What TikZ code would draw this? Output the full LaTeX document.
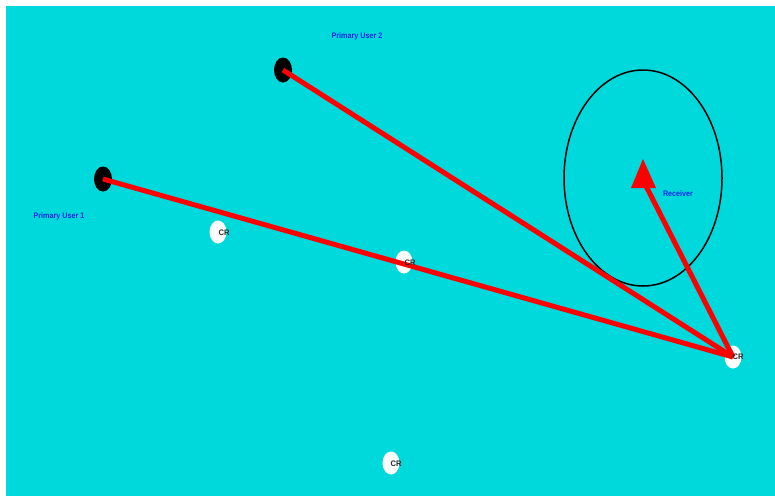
\documentclass[tikz,border=0pt]{standalone}
\usepackage{fontspec}
\setmainfont{Liberation Sans}
\usetikzlibrary{shapes.geometric}
\definecolor{bgcyan}{RGB}{0,217,220}
\definecolor{lblblue}{RGB}{10,40,230}
\definecolor{crtext}{RGB}{40,40,40}
\begin{document}
\begin{tikzpicture}[x=1pt,y=-1pt,
  pudot/.style={ellipse,fill=black,minimum width=18pt,minimum height=25pt,inner sep=0pt},
  crdot/.style={ellipse,fill=white,minimum width=17pt,minimum height=23pt,inner sep=0pt},
  crlbl/.style={font=\fontsize{8}{9}\selectfont\bfseries,text=crtext,inner sep=0pt,xscale=0.95},
  bluelbl/.style={font=\fontsize{8}{9}\selectfont\bfseries,text=lblblue,inner sep=0pt,xscale=0.9},
  redlink/.style={draw=red,line width=5pt},
  ring/.style={draw=black,line width=1.5pt}]
\useasboundingbox (0,0) rectangle (775,496);
\fill[bgcyan] (6,6) rectangle (775,496);
% coverage circle
\draw[ring] (643,178) ellipse [x radius=79, y radius=108];
% primary users
\node[pudot] (pu1) at (103,179) {};
\node[pudot] (pu2) at (283,70) {};
% cognitive radios
\node[crdot] (cr1) at (218,232) {};
\node[crdot] (cr2) at (404,262) {};
\node[crdot] (cr3) at (733,357) {};
\node[crdot] (cr4) at (391,463) {};
% receiver
\coordinate (rxbase) at (646,186);
\draw[redlink] (pu1.center) -- (cr3.center);
\draw[redlink] (pu2.center) -- (cr3.center);
\draw[redlink] (cr3.center) -- (rxbase);
\fill[red] (643,159) -- (656,188) -- (631,188) -- cycle;
% labels
\node[bluelbl] (lpu2) at (357,36) {Primary User 2};
\node[bluelbl] (lpu1) at (59,216) {Primary User 1};
\node[bluelbl] (lrx) at (678,194) {Receiver};
\node[crlbl] at (224,233) {CR};
\node[crlbl] at (410,263) {CR};
\node[crlbl] at (738,357) {CR};
\node[crlbl] at (396,464) {CR};
\end{tikzpicture}
\end{document}
